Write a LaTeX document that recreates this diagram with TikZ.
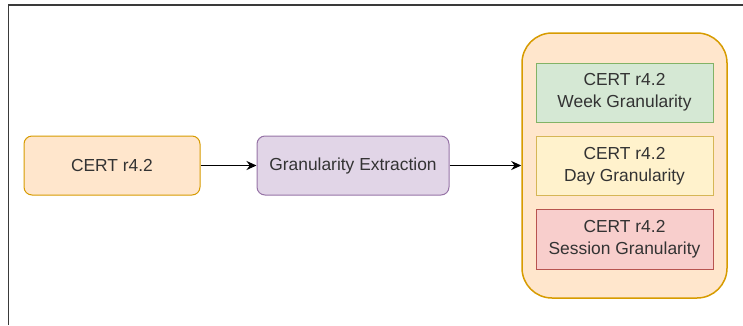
\documentclass[tikz,border=0pt]{standalone}
\usepackage{fontspec}
\setmainfont{Liberation Sans}
\usetikzlibrary{arrows.meta}

\definecolor{peachfill}{HTML}{FFE6CC}
\definecolor{peachline}{HTML}{D79B00}
\definecolor{lilacfill}{HTML}{E1D5E7}
\definecolor{lilacline}{HTML}{9673A6}
\definecolor{greenfill}{HTML}{D5E8D4}
\definecolor{greenline}{HTML}{82B366}
\definecolor{yellowfill}{HTML}{FFF2CC}
\definecolor{yellowline}{HTML}{D6B656}
\definecolor{redfill}{HTML}{F8CECC}
\definecolor{redline}{HTML}{B85450}
\definecolor{textgray}{HTML}{333333}
\definecolor{framegray}{HTML}{3A3A3A}

\begin{document}
\begin{tikzpicture}[x=1pt, y=-1pt,
    every node/.style={rectangle, draw, line width=1pt, align=center, inner sep=0pt,
        text=textgray, font=\fontsize{17.4}{21.7}\selectfont},
    roundbox/.style={rounded corners=8pt, minimum height=59pt},
    setbox/.style={minimum width=177pt, minimum height=59pt}]
            \useasboundingbox (0,0) rectangle (743,325);
            \draw[framegray, line width=1.8pt] (8.5,325) -- (8.5,5) -- (743,5);

            \node[roundbox, fill=peachfill, draw=peachline, minimum width=176pt] (cert) at (112,165.5) {CERT r4.2};
            \node[roundbox, fill=lilacfill, draw=lilacline, minimum width=192pt] (extract) at (353,165.5) {Granularity Extraction};
            \node[fill=peachfill, draw=peachline, line width=1.5pt, rounded corners=30pt,
                minimum width=205pt, minimum height=265pt] (outputs) at (624.5,165.5) {};

            \node[setbox, fill=greenfill, draw=greenline] (week) at (624.5,92.5) {CERT r4.2\\Week Granularity};
            \node[setbox, fill=yellowfill, draw=yellowline] (day) at (624.5,166) {CERT r4.2\\Day Granularity};
            \node[setbox, fill=redfill, draw=redline, minimum height=60pt] (session) at (624.5,239) {CERT r4.2\\Session Granularity};

            \draw[-{Stealth[length=10pt, width=9pt]}, line width=1.8pt] (cert) -- (extract);
            \draw[-{Stealth[length=10pt, width=9pt]}, line width=1.8pt] (extract) -- (outputs);
        \end{tikzpicture}
\end{document}
